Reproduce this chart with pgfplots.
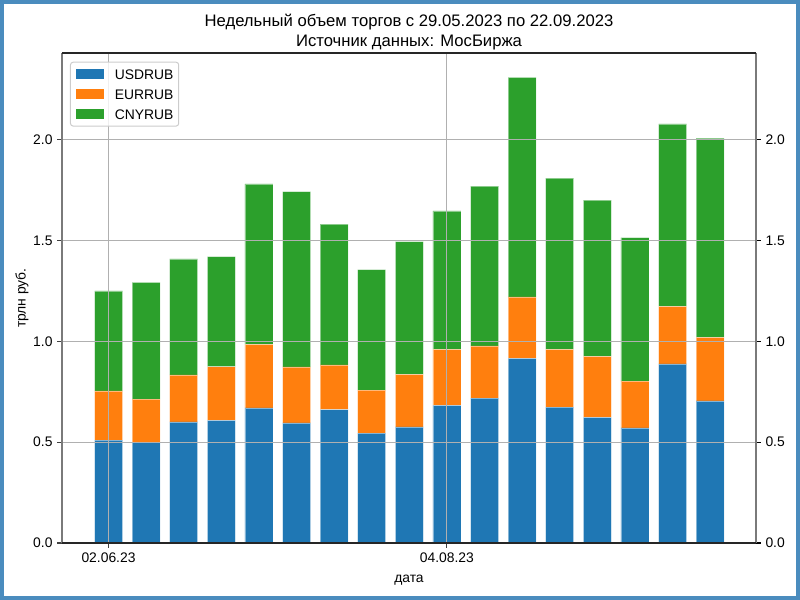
\documentclass[border=0pt]{standalone}
\usepackage{fontspec}
\setmainfont{Liberation Sans}
\usepackage{pgfplots}
\pgfplotsset{compat=1.18}
\definecolor{tabblue}{HTML}{1F77B4}
\definecolor{taborange}{HTML}{FF7F0E}
\definecolor{tabgreen}{HTML}{2CA02C}
\definecolor{gridgray}{HTML}{B0B0B0}
\definecolor{spinegray}{HTML}{7A7A7A}
\definecolor{legendgray}{HTML}{CCCCCC}
\definecolor{bordercol}{HTML}{4A8CBE}
\newcommand{\tickfont}{\fontsize{10.4}{12.5}\selectfont}
\begin{document}
\begin{tikzpicture}
\begin{axis}[
  name=main,
  at={(0,0)}, anchor=south west,
  scale only axis, width=520.5pt, height=367.5pt,
  xmin=-1.237, xmax=17.22, ymin=0, ymax=2.43,
  ybar stacked, bar width=0.745,
  axis on top,
  axis line style={draw=none},
  grid=major, grid style={color=gridgray, line width=0.8pt},
  tick align=outside, major tick length=3.6pt,
  xtick pos=bottom, ytick pos=left,
  tick style={color=black!75, line width=0.8pt},
  xtick={0,9}, xticklabels={02.06.23,04.08.23},
  ytick={0,0.5,1,1.5,2},
  ticklabel style={font=\tickfont},
  yticklabel style={/pgf/number format/.cd, fixed, fixed zerofill, precision=1, assume math mode=true},
  legend style={at={(rel axis cs:0.0115,0.9822)}, anchor=north west,
    draw=legendgray, line width=0.75pt, rounded corners=2pt,
    fill=white, fill opacity=0.8, text opacity=1,
    font=\tickfont, inner xsep=4pt, inner ysep=5.2pt, row sep=7.5pt,
    nodes={inner sep=0pt, text height=7.5pt, text depth=0pt},
    /tikz/every odd column/.append style={column sep=8.25pt}},
  legend cell align=left,
  legend image code/.code={\fill[#1, sharp corners, fill opacity=1, draw=none] (0pt,-3.75pt) rectangle (21pt,3.75pt);},
]
\addplot[fill=tabblue, draw=white, draw opacity=0.45, line width=0.4pt] coordinates {
(0,0.510) (1,0.499) (2,0.601) (3,0.608) (4,0.670) (5,0.596) (6,0.661) (7,0.545) (8,0.576)
(9,0.682) (10,0.719) (11,0.916) (12,0.674) (13,0.623) (14,0.571) (15,0.888) (16,0.705)};
\addlegendentry{USDRUB}
\addplot[fill=taborange, draw=white, draw opacity=0.45, line width=0.4pt] coordinates {
(0,0.244) (1,0.215) (2,0.233) (3,0.266) (4,0.315) (5,0.277) (6,0.222) (7,0.213) (8,0.260)
(9,0.278) (10,0.258) (11,0.304) (12,0.286) (13,0.303) (14,0.232) (15,0.286) (16,0.315)};
\addlegendentry{EURRUB}
\addplot[fill=tabgreen, draw=white, draw opacity=0.45, line width=0.4pt] coordinates {
(0,0.496) (1,0.579) (2,0.575) (3,0.546) (4,0.796) (5,0.870) (6,0.698) (7,0.598) (8,0.659)
(9,0.687) (10,0.793) (11,1.089) (12,0.850) (13,0.774) (14,0.712) (15,0.904) (16,0.988)};
\addlegendentry{CNYRUB}
\end{axis}
\begin{axis}[
  at={(0,0)}, anchor=south west,
  scale only axis, width=520.5pt, height=367.5pt,
  xmin=-1.237, xmax=17.22, ymin=0, ymax=2.43,
  axis line style={draw=none},
  xtick=\empty,
  tick align=outside, major tick length=3.6pt,
  ytick pos=right, yticklabel pos=right,
  tick style={color=black, line width=0.8pt},
  ytick={0,0.5,1,1.5,2},
  ticklabel style={font=\tickfont},
  yticklabel style={/pgf/number format/.cd, fixed, fixed zerofill, precision=1, assume math mode=true},
]
\end{axis}
\draw[spinegray, line width=0.9pt] (main.south west) -- (main.north west);
\draw[spinegray, line width=0.9pt] (main.south east) -- (main.north east);
\draw[black!85, line width=0.9pt] (main.south west) -- (main.south east);
\draw[black!85, line width=0.9pt] (main.north west) -- (main.north east);
\node[anchor=base, font=\fontsize{12.5}{15}\selectfont] at ([yshift=4.5pt]main.north) {Источник данных: МосБиржа};
\node[anchor=base, font=\fontsize{12.5}{15}\selectfont] at ([yshift=19.5pt]main.north) {Недельный объем торгов с 29.05.2023 по 22.09.2023};
\node[anchor=base, font=\tickfont] at ([yshift=-29.25pt]main.south) {дата};
\node[rotate=90, anchor=center, font=\tickfont] at ([xshift=-30pt]main.west) {трлн руб.};
\pgfresetboundingbox
\draw[bordercol, line width=3pt] ([shift={(-45pt,-41.25pt)}]main.south west) rectangle ([shift={(552pt,405.75pt)}]main.south west);
\useasboundingbox ([shift={(-46.5pt,-42.75pt)}]main.south west) rectangle ([shift={(553.5pt,407.25pt)}]main.south west);
\end{tikzpicture}
\end{document}
